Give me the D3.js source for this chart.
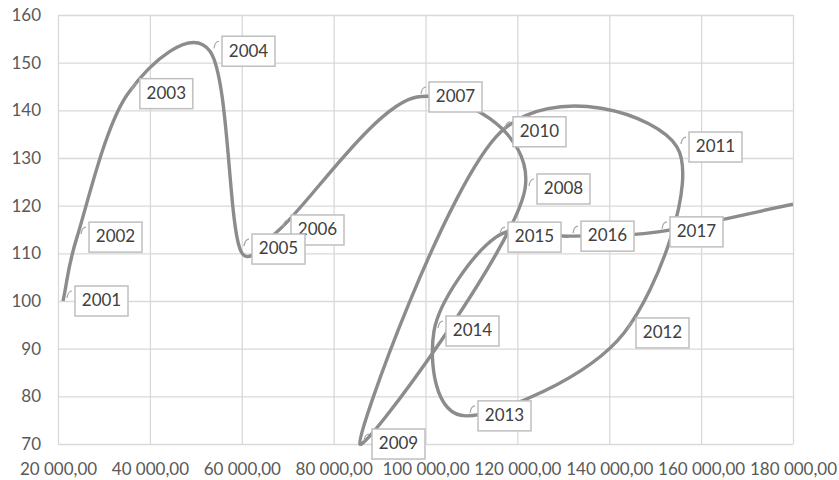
<!DOCTYPE html>
<html><head><meta charset="utf-8">
<script src="https://cdn.jsdelivr.net/npm/d3@7"></script>
<style>body{margin:0;background:#fff}svg{display:block}</style>
</head><body>
<script>
const years = ["2001","2002","2003","2004","2005","2006","2007","2008","2009","2010","2011","2012","2013","2014","2015","2016","2017",""];
const xValues = [21090,24140,35200,53090,59620,68110,98150,121660,85740,116430,154750,143210,108820,101850,115350,131240,150610,180000];
const yValues = [100,113.4,143.5,152.4,110.9,114.9,142.8,123.5,70,135.5,132.3,93.3,75.9,93.7,113.4,113.6,114.5,120.3];
const xTicks = [20000,40000,60000,80000,100000,120000,140000,160000,180000];
const yTicks = [70,80,90,100,110,120,130,140,150,160];

const W=839,H=480;
const m={l:58,r:46,t:15,b:36};
const svg=d3.select("body").append("svg").attr("width",W).attr("height",H);
const x=d3.scaleLinear().domain([20000,180000]).range([m.l,W-m.r]);
const y=d3.scaleLinear().domain([70,160]).range([H-m.b,m.t]);
const loc=d3.formatLocale({decimal:",",thousands:"\u00a0",grouping:[3],currency:["",""]});
const fmt=loc.format(",.2f");
const font="Lato, 'Open Sans', sans-serif";

const gx=svg.append("g").attr("transform",`translate(0,${H-m.b})`)
  .call(d3.axisBottom(x).tickValues(xTicks).tickSize(-(H-m.b-m.t)).tickPadding(19).tickFormat(fmt));
const gy=svg.append("g").attr("transform",`translate(${m.l},0)`)
  .call(d3.axisLeft(y).tickValues(yTicks).tickSize(-(W-m.l-m.r)).tickPadding(17).tickFormat(d3.format("d")));
[gx,gy].forEach(g=>{
  g.select(".domain").remove();
  g.selectAll(".tick line").attr("stroke","#d9d9d9").attr("stroke-width",1.3);
  g.selectAll("text").attr("fill","#595959").style("font-family",font).style("font-size","17px");
});

// Excel-like smoothed curve: Catmull-Rom handles limited by adjacent segment length
function excelSmooth(context){
  let P=[];
  const c=0.5;
  return {
    areaStart(){},areaEnd(){},
    lineStart(){P=[];},
    point(px,py){P.push([px,py]);},
    lineEnd(){
      const n=P.length; if(!n) return;
      const H=P.map((p,i)=>{
        const a=P[Math.max(0,i-1)], b=P[Math.min(n-1,i+1)];
        const k=(i===0||i===n-1)?1/3:1/6;
        return [(b[0]-a[0])*k,(b[1]-a[1])*k];
      });
      const len=v=>Math.hypot(v[0],v[1]);
      const lim=(h,seg)=>{const l=len(h);const s=l>0?Math.min(1,c*seg/l):1;return [h[0]*s,h[1]*s];};
      context.moveTo(P[0][0],P[0][1]);
      for(let i=0;i<n-1;i++){
        const seg=len([P[i+1][0]-P[i][0],P[i+1][1]-P[i][1]]);
        const ho=lim(H[i],seg), hi=lim(H[i+1],seg);
        context.bezierCurveTo(P[i][0]+ho[0],P[i][1]+ho[1],P[i+1][0]-hi[0],P[i+1][1]-hi[1],P[i+1][0],P[i+1][1]);
      }
    }
  };
}

const pts=years.map((t,i)=>({t,x:xValues[i],y:yValues[i]}));
const line=d3.line().x(d=>x(d.x)).y(d=>y(d.y)).curve(excelSmooth);
svg.append("clipPath").attr("id","clip").append("rect").attr("x",m.l).attr("y",0).attr("width",W-m.l-m.r).attr("height",H-m.b+2);
svg.append("path").datum(pts).attr("d",line).attr("fill","none").attr("stroke","#8c8c8c")
  .attr("stroke-width",3.4).attr("clip-path","url(#clip)").attr("stroke-linejoin","round");

const lab=pts.filter(d=>d.t!=="").reverse();
const g=svg.append("g");
lab.forEach(d=>{
  const px=x(d.x),py=y(d.y);
  g.append("path").attr("d",`M${px+4},${py-3} Q${px+5},${py-10} ${px+9},${py-10}`)
    .attr("fill","none").attr("stroke","#a6a6a6").attr("stroke-width",1.2);
  g.append("rect").attr("x",px+12).attr("y",py-15).attr("width",53).attr("height",30)
    .attr("fill","#fff").attr("stroke","#bfbfbf").attr("stroke-width",1.5);
  g.append("text").attr("x",px+38.5).attr("y",py+1).attr("text-anchor","middle").attr("dominant-baseline","middle")
    .attr("fill","#404040").style("font-family",font).style("font-size","17px").text(d.t);
});
</script>
</body></html>
